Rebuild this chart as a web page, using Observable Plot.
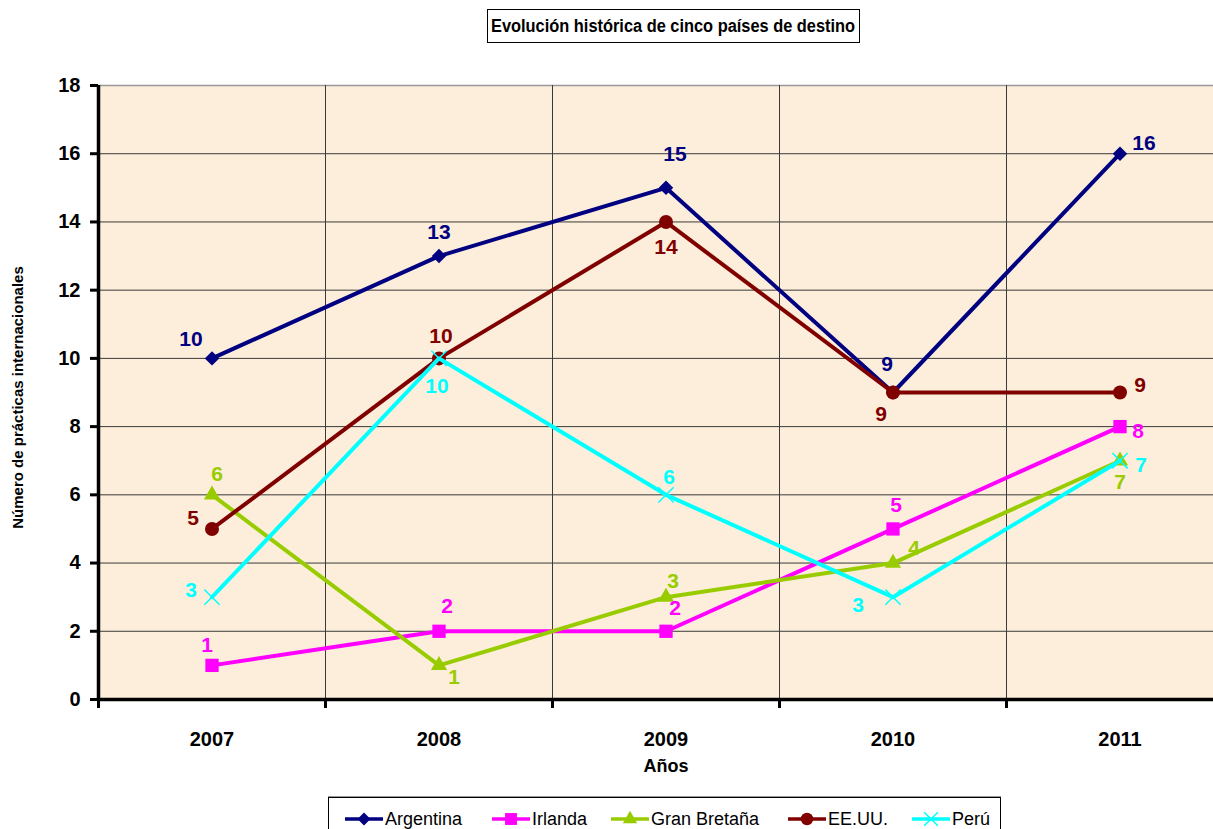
<!DOCTYPE html>
<html>
<head>
<meta charset="utf-8">
<script src="https://cdn.jsdelivr.net/npm/d3@7"></script>
<script src="https://cdn.jsdelivr.net/npm/@observablehq/plot@0.6"></script>
<style>
  body { margin: 0; background: #fff; }
  #wrap { position: relative; width: 1213px; height: 829px; overflow: hidden;
    font-family: "Liberation Sans", Arial, sans-serif; }
  #chart { position: absolute; left: 0; top: 0; }
  #title { position: absolute; left: 487px; top: 9px; width: 371px; height: 32px;
    border: 1px solid #000; background: #fff;
    display: flex; align-items: center; justify-content: center; overflow: hidden; }
  #title span { display: inline-block; white-space: nowrap; font-size: 18px; font-weight: bold;
    transform: scaleX(0.91); }
  #legend { position: absolute; left: 328px; top: 797px; width: 671px; height: 45px;
    border: 1px solid #000; background: #fff; box-shadow: 0 -1px 0 #999; }
  .item { position: absolute; top: 11px; height: 20px; display: flex; align-items: center; white-space: nowrap;
    font-size: 18px; }
  .item svg { display: block; }
</style>
</head>
<body>
<div id="wrap">
  <div id="chart"></div>
  <div id="title"><span>Evolución histórica de cinco países de destino</span></div>
  <div id="legend"></div>
</div>
<script>
const years = [2007, 2008, 2009, 2010, 2011];
const series = ["Argentina", "Irlanda", "Gran Bretaña", "EE.UU.", "Perú"];
const argentina = [10, 13, 15, 9, 16];
const irlanda = [1, 2, 2, 5, 8];
const granBretana = [6, 1, 3, 4, 7];
const eeuu = [5, 10, 14, 9, 9];
const peru = [3, 10, 6, 3, 7];
const yTicks = [0, 2, 4, 6, 8, 10, 12, 14, 16, 18];

const values = [argentina, irlanda, granBretana, eeuu, peru];
const colors = ["#000080", "#FF00FF", "#99CC00", "#800000", "#00FFFF"];
const symbols = ["diamond2", "square", "triangle", "circle", "times"];
const symR = [6.5, 7.5, 6, 7, 7];

// label placement (style, per series/point)
const labelOffsets = {
  "Argentina":    [[-21,-19],[0,-24],[9,-34],[-6,-28],[24,-10]],
  "Irlanda":      [[-5,-20],[8,-25],[9,-23],[3,-24],[18,5]],
  "Gran Bretaña": [[5,-21],[15,12],[7,-16],[21,-15],[0,22]],
  "EE.UU.":       [[-19,-11],[2,-22],[0,25],[-12,22],[20,-7]],
  "Perú":         [[-21,-7],[-2,28],[3,-18],[-35,8],[21,5]]
};
// legend item placement (style)
const legendLeft = [16, 163, 282, 459, 583];

const data = series.flatMap((s, i) => values[i].map((v, j) => ({series: s, year: years[j], value: v})));
const boundaries = years.map(y => y - 0.5).concat([years[years.length - 1] + 0.5]);

const font = '"Liberation Sans", Arial, sans-serif';

const marks = [
  Plot.frame({fill: "#FCEEDA", stroke: null}),
  Plot.ruleY(yTicks.filter(d => d > 0 && d < 18), {y: d => d, stroke: "#3a3a3a", strokeWidth: 1}),
  Plot.ruleY([18], {stroke: "#999", strokeWidth: 1.5}),
  Plot.ruleX(boundaries.slice(1), {x: d => d, y1: 0, y2: 18, stroke: "#3a3a3a", strokeWidth: 1}),
  Plot.axisY({ticks: yTicks, tickSize: 8, tickPadding: 10, strokeWidth: 3, fontSize: 20, fontWeight: "bold", label: null, stroke: "#000", fill: "#000"}),
  Plot.axisX({ticks: boundaries, tickSize: 9, strokeWidth: 3, tickFormat: () => "", label: null, stroke: "#000"}),
  Plot.axisX({ticks: years, tickSize: 0, tickPadding: 32, fontSize: 20, fontWeight: "bold", tickFormat: d => String(d), label: null, fill: "#000"}),
  Plot.ruleX([years[0] - 0.5], {y1: 0, y2: 18, stroke: "#000", strokeWidth: 3.5}),
  Plot.ruleY([0], {x1: years[0] - 0.5, x2: years[years.length-1] + 0.5, stroke: "#000", strokeWidth: 3.5}),
  Plot.text(["Años"], {x: 2009, frameAnchor: "bottom", dy: 72, fontSize: 18, fontWeight: "bold", fill: "#000"}),
  Plot.text(["Número de prácticas internacionales"], {frameAnchor: "left", textAnchor: "middle", dx: -80, dy: 5, rotate: -90, fontSize: 15, fontWeight: "bold", fill: "#000"})
];

series.forEach((s, i) => {
  const d = data.filter(e => e.series === s);
  marks.push(Plot.line(d, {x: "year", y: "value", stroke: colors[i], strokeWidth: 4}));
  const isStroke = symbols[i] === "times";
  marks.push(Plot.dot(d, {x: "year", y: "value", symbol: () => symbols[i], r: symR[i],
    fill: isStroke ? "none" : colors[i], stroke: colors[i], strokeWidth: isStroke ? 1.5 : 0}));
});
series.forEach((s, i) => {
  data.filter(e => e.series === s).forEach((e, j) => {
    const [dx, dy] = labelOffsets[s][j];
    marks.push(Plot.text([e], {x: "year", y: "value", text: e => String(e.value), dx, dy,
      fill: colors[i], fontSize: 21, fontWeight: "bold"}));
  });
});

const chart = Plot.plot({
  width: 1213, height: 829,
  marginLeft: 98, marginTop: 85, marginBottom: 130, marginRight: 0,
  x: {type: "linear", domain: [years[0] - 0.5, years[years.length - 1] + 0.5], range: [98, 1233]},
  y: {type: "linear", domain: [0, 18], range: [699, 85]},
  symbol: {type: "identity"},
  style: {fontFamily: font, background: "transparent", overflow: "hidden"},
  marks
});
document.getElementById("chart").appendChild(chart);

// legend
const legend = d3.select("#legend");
const symMap = {diamond2: d3.symbolDiamond2, square: d3.symbolSquare, triangle: d3.symbolTriangle, circle: d3.symbolCircle, times: d3.symbolTimes};
series.forEach((s, i) => {
  const it = legend.append("div").attr("class", "item").style("left", legendLeft[i] + "px");
  const svg = it.append("svg").attr("width", 40).attr("height", 20);
  svg.append("line").attr("x1", 0).attr("x2", 38).attr("y1", 10).attr("y2", 10)
    .attr("stroke", colors[i]).attr("stroke-width", 3.5);
  const isStroke = symbols[i] === "times";
  svg.append("path").attr("transform", "translate(19,10)")
    .attr("d", d3.symbol(symMap[symbols[i]], Math.PI * symR[i] * symR[i] * 0.8)())
    .attr("fill", isStroke ? "none" : colors[i]).attr("stroke", colors[i]).attr("stroke-width", isStroke ? 1.5 : 0);
  it.append("span").text(s);
});
</script>
</body>
</html>
